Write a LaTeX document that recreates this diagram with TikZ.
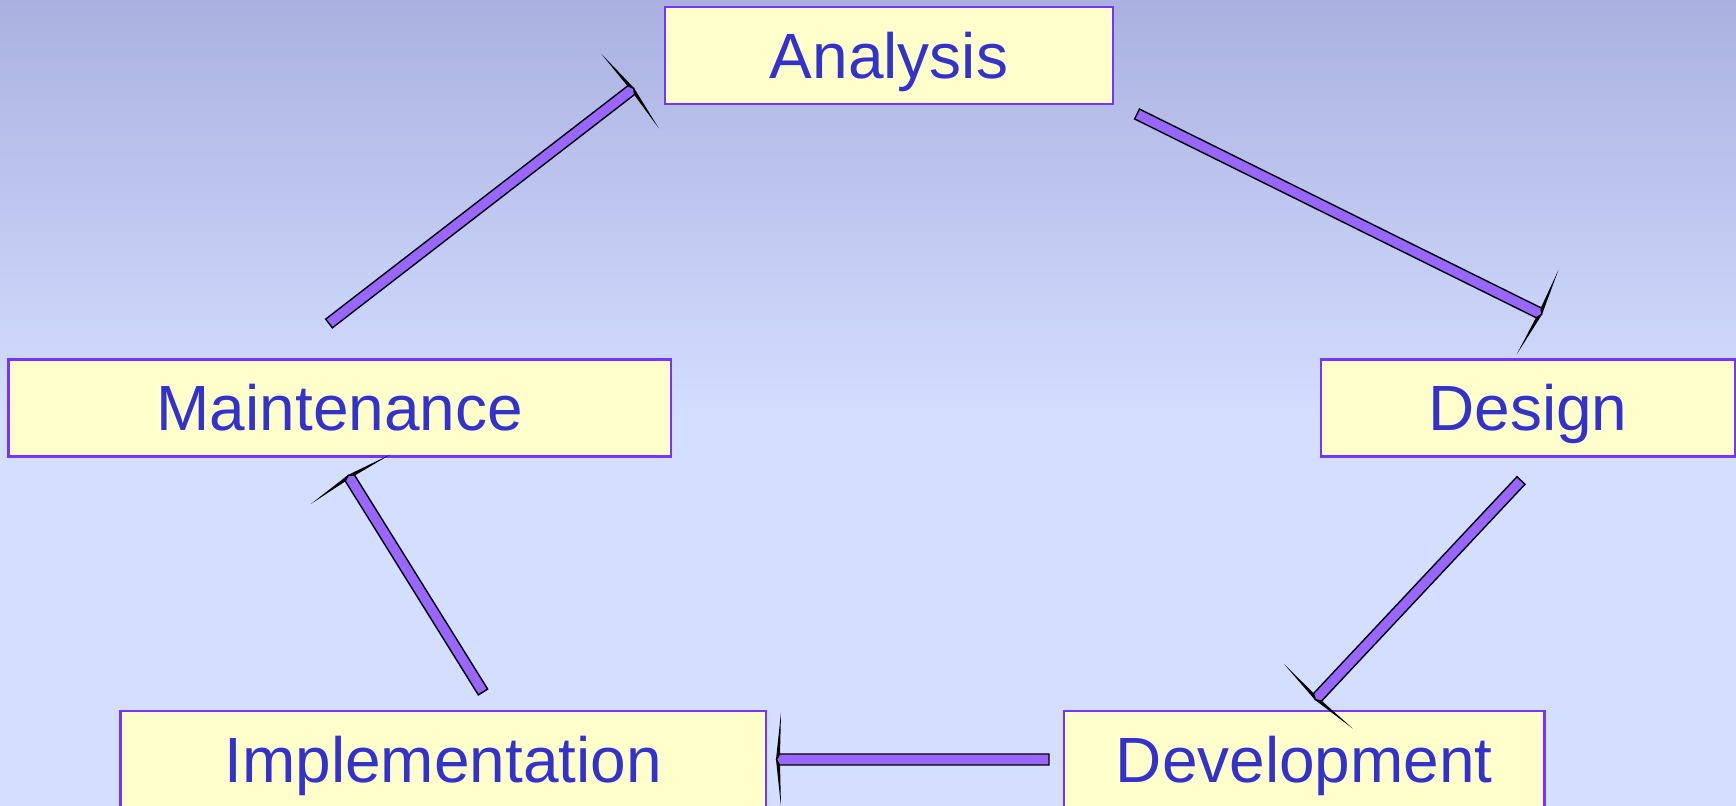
\documentclass[tikz,border=0pt]{standalone}
\usepackage{fontspec}
\setmainfont{Liberation Sans}
\usetikzlibrary{calc}

\definecolor{phaseborder}{HTML}{7733FF}
\definecolor{phasefill}{HTML}{FFFFCC}
\definecolor{phasetext}{HTML}{3333CC}
\definecolor{arrowpurple}{HTML}{9966FF}
\definecolor{bgtop}{HTML}{AAB1E0}
\definecolor{bgbottom}{HTML}{D4DEFF}

\tikzset{
phase/.style={rectangle,draw=phaseborder,line width=1.2pt,fill=phasefill,text=phasetext,font=\fontsize{36.4}{44}\selectfont,minimum height=1.94cm,text height=0.92cm,text depth=0cm,inner sep=0pt,outer sep=0pt},
arrowbody/.style={draw=black,line width=0.8pt,fill=arrowpurple}
}

% block arrow from #1 (tail) to #2 (tip)
\newcommand{\cyclearrow}[2]{%
\pgfmathanglebetweenpoints{\pgfpointanchor{#1}{center}}{\pgfpointanchor{#2}{center}}%
\let\arrang\pgfmathresult
\pgfpointdiff{\pgfpointanchor{#1}{center}}{\pgfpointanchor{#2}{center}}%
\pgfgetlastxy{\arrdx}{\arrdy}%
\pgfmathsetmacro{\arrlen}{veclen(\arrdx,\arrdy)}%
\begin{scope}[shift={(#2)},rotate=\arrang]
\fill[black] (0,0) -- (-0.10,0.94) -- (-0.08,0.11) -- (-0.08,-0.11) -- (-0.10,-0.94) -- cycle;
\draw[arrowbody] (-0.01,0) -- (-0.07,0.11) -- (-\arrlen pt,0.11cm) -- (-\arrlen pt,-0.11cm) -- (-0.07,-0.11) -- cycle;
\end{scope}}

\begin{document}
\begin{tikzpicture}
\useasboundingbox (0,0) rectangle (34.72,16.12);
\fill[bgbottom] (0,0) rectangle (34.72,7.72);
\shade[top color=bgtop,bottom color=bgbottom] (0,7.70) rectangle (34.72,16.12);

\node[phase,minimum width=8.96cm] (Analysis) at (17.78,15.01) {Analysis};
\node[phase,minimum width=8.28cm] (Design) at (30.56,7.96) {Design};
\node[phase,minimum width=9.61cm] (Development) at (26.085,0.93) {Development};
\node[phase,minimum width=12.91cm] (Implementation) at (8.865,0.93) {Implementation};
\node[phase,minimum width=13.25cm] (Maintenance) at (6.795,7.96) {Maintenance};

\coordinate (AnaOut) at ($(Analysis.south east)+(0.48,-0.20)$);
\coordinate (DesIn) at ($(Design.north)+(0.28,0.90)$);
\coordinate (DesOut) at ($(Design.south)+(-0.14,-0.48)$);
\coordinate (DevIn) at ($(Development.north)+(0.215,0.22)$);
\coordinate (DevOut) at ($(Development.west)+(-0.30,0)$);
\coordinate (ImpIn) at ($(Implementation.east)+(0.20,0)$);
\coordinate (ImpOut) at ($(Implementation.north)+(0.795,0.38)$);
\coordinate (MaiIn) at ($(Maintenance.south)+(0.165,-0.37)$);
\coordinate (MaiOut) at ($(Maintenance.north)+(-0.215,0.72)$);
\coordinate (AnaIn) at ($(Analysis.west)+(-0.62,-0.65)$);

\cyclearrow{AnaOut}{DesIn}
\cyclearrow{DesOut}{DevIn}
\cyclearrow{DevOut}{ImpIn}
\cyclearrow{ImpOut}{MaiIn}
\cyclearrow{MaiOut}{AnaIn}

\end{tikzpicture}
\end{document}
